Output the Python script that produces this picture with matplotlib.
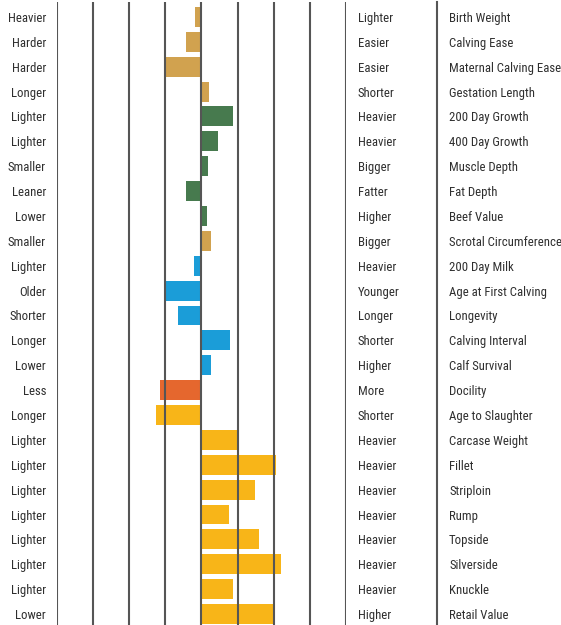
import matplotlib.pyplot as plt
from matplotlib import font_manager
from matplotlib.font_manager import FontProperties

traits = ["Birth Weight", "Calving Ease", "Maternal Calving Ease", "Gestation Length",
          "200 Day Growth", "400 Day Growth", "Muscle Depth", "Fat Depth", "Beef Value",
          "Scrotal Circumference", "200 Day Milk", "Age at First Calving", "Longevity",
          "Calving Interval", "Calf Survival", "Docility", "Age to Slaughter",
          "Carcase Weight", "Fillet", "Striploin", "Rump", "Topside", "Silverside",
          "Knuckle", "Retail Value"]
low_labels = ["Heavier", "Harder", "Harder", "Longer", "Lighter", "Lighter", "Smaller",
              "Leaner", "Lower", "Smaller", "Lighter", "Older", "Shorter", "Longer",
              "Lower", "Less", "Longer", "Lighter", "Lighter", "Lighter", "Lighter",
              "Lighter", "Lighter", "Lighter", "Lower"]
high_labels = ["Lighter", "Easier", "Easier", "Shorter", "Heavier", "Heavier", "Bigger",
               "Fatter", "Higher", "Bigger", "Heavier", "Younger", "Longer", "Shorter",
               "Higher", "More", "Shorter", "Heavier", "Heavier", "Heavier", "Heavier",
               "Heavier", "Heavier", "Heavier", "Higher"]
values = [-0.17, -0.44, -0.97, 0.22, 0.86, 0.47, 0.19, -0.44, 0.14, 0.25,
          -0.22, -1.0, -0.64, 0.8, 0.25, -1.14, -1.25,
          1.03, 2.05, 1.47, 0.75, 1.58, 2.19, 0.86, 2.03]
groups = ["calving"] * 4 + ["growth"] * 5 + ["calving"] + ["maternal"] * 5 + \
         ["temperament"] + ["carcase"] * 9

colors = {"calving": "#D1A24F", "growth": "#477A4E", "maternal": "#1B9DD8",
          "temperament": "#E5672E", "carcase": "#F8B518"}


def narrow_font():
    # look for a regular-weight condensed face among the installed fonts
    prefs = ["robotocondensed-regular", "liberationsansnarrow-regular",
             "notosans-condensed.", "notosanscondensed-regular",
             "dejavusanscondensed.", "opensans-condensed", "condensed", "narrow"]
    files = [f.fname for f in font_manager.fontManager.ttflist
             if f.weight in (400, "normal", "regular") and f.style == "normal"]
    for key in prefs:
        for fn in files:
            base = fn.split("/")[-1].lower()
            if key in base and "bold" not in base and "light" not in base \
                    and "italic" not in base and "semi" not in base:
                return FontProperties(fname=fn)
    return FontProperties(family="DejaVu Sans")


fp = narrow_font()

W, H = 561, 625
fig = plt.figure(figsize=(W / 100, H / 100), dpi=100)
ax = fig.add_axes([57 / W, 0, (346 - 57) / W, 1 - 2 / H])

rows = range(len(traits))
ax.barh(list(rows), values, height=0.8,
        color=[colors[g] for g in groups], zorder=1)

for x in range(-4, 5):
    ax.axvline(x, color="#555555", lw=1.5, zorder=3)

ax.set_xlim(-4, 4)
ax.set_ylim(24.44, -0.6)
ax.axis("off")

# separator between the direction column and the trait names
fig.add_artist(plt.Line2D([437 / W, 437 / W], [0, 1 - 2 / H],
                          color="#555555", lw=1.5))

# size the labels so the longest trait name fits its column
renderer = fig.canvas.get_renderer()
probe = fig.text(0, 0, "Maternal Calving Ease", fontproperties=fp, fontsize=10)
width = probe.get_window_extent(renderer).width
probe.remove()
size = min(10.5, 10.0 * 111 / width)

for i in rows:
    fig_y = ax.transData.transform((0, i))[1] - 1.5
    y = fig.transFigure.inverted().transform((0, fig_y))[1]
    fig.text(46 / W, y, low_labels[i], ha="right", va="center",
             fontproperties=fp, fontsize=size, color="#2e2e2e")
    fig.text(358 / W, y, high_labels[i], ha="left", va="center",
             fontproperties=fp, fontsize=size, color="#2e2e2e")
    fig.text(449 / W, y, traits[i], ha="left", va="center",
             fontproperties=fp, fontsize=size, color="#2e2e2e")

fig.savefig("out.png", dpi=100)
